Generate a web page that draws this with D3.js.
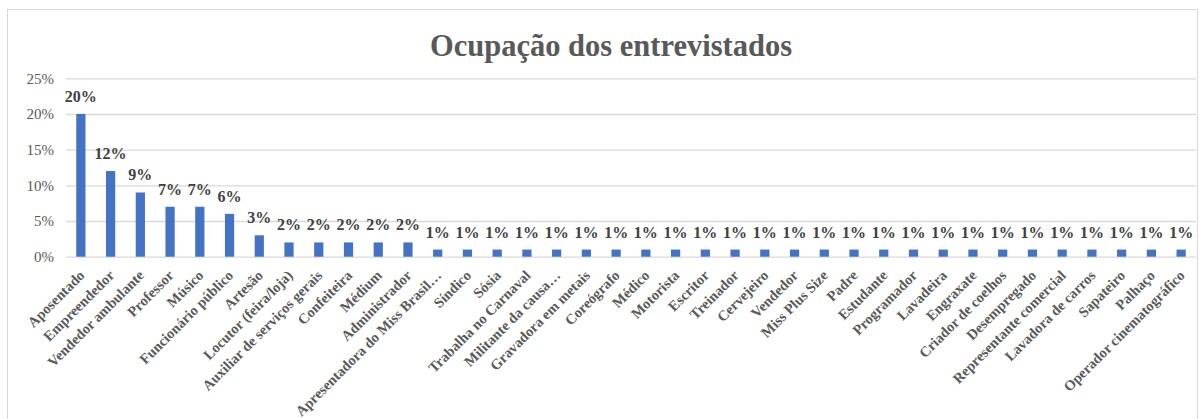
<!DOCTYPE html>
<html><head><meta charset="utf-8">
<script src="https://cdn.jsdelivr.net/npm/d3@7"></script>
<style>body{margin:0;background:#fff}svg{display:block}</style>
</head><body>
<script>
const categories = ["Aposentado","Empreendedor","Vendedor ambulante","Professor","Músico","Funcionário público","Artesão","Locutor (feira/loja)","Auxiliar de serviços gerais","Confeiteira","Médium","Administrador","Apresentadora do Miss Brasil…","Síndico","Sósia","Trabalha no Carnaval","Militante da causa…","Gravadora em metais","Coreógrafo","Médico","Motorista","Escritor","Treinador","Cervejeiro","Vendedor","Miss Plus Size","Padre","Estudante","Programador","Lavadeira","Engraxate","Criador de coelhos","Desempregado","Representante comercial","Lavadora de carros","Sapateiro","Palhaço","Operador cinematográfico"];
const values = [20,12,9,7,7,6,3,2,2,2,2,2,1,1,1,1,1,1,1,1,1,1,1,1,1,1,1,1,1,1,1,1,1,1,1,1,1,1];
const yTicks = [0,5,10,15,20,25];
const title = "Ocupação dos entrevistados";

const W = 1201, H = 419;
const svg = d3.select("body").append("svg").attr("width", W).attr("height", H);
const serif = "'Liberation Serif','Times New Roman',serif";

svg.append("rect").attr("x",7.5).attr("y",9.5).attr("width",1190).attr("height",430)
  .attr("fill","#fff").attr("stroke","#d9d9d9");

svg.append("text").attr("x",611).attr("y",55.5).attr("text-anchor","middle")
  .attr("font-family",serif).attr("font-weight","bold").attr("font-size",30.5)
  .attr("fill","#595959").text(title);

const x = d3.scaleBand().domain(categories).range([66,1196]).paddingInner(0.69).paddingOuter(0.345);
const y = d3.scaleLinear().domain([0,25]).range([256.7,78.3]);

const yAxis = d3.axisLeft(y).tickValues(yTicks).tickFormat(d=>d+"%").tickSize(-(1196-66)).tickPadding(12);
const gy = svg.append("g").attr("transform","translate(66,0)").call(yAxis);
gy.select(".domain").remove();
gy.selectAll(".tick line").attr("stroke","#d9d9d9").attr("stroke-width",1.3);
gy.selectAll(".tick text").attr("font-family",serif).attr("font-size",15).attr("fill","#595959");

svg.append("g").selectAll("rect").data(values).join("rect")
  .attr("x",(d,i)=>x(categories[i])).attr("width",x.bandwidth())
  .attr("y",d=>y(d)).attr("height",d=>y(0)-y(d)).attr("fill","#4472C4");

svg.append("g").selectAll("text").data(values).join("text")
  .attr("x",(d,i)=>x(categories[i])+x.bandwidth()/2).attr("y",d=>y(d)-12)
  .attr("text-anchor","middle").attr("font-family",serif).attr("font-weight","bold")
  .attr("font-size",16).attr("fill","#404040").text(d=>d+"%");

const xAxis = d3.axisBottom(x).tickSize(0).tickPadding(0);
const gx = svg.append("g").attr("transform",`translate(0,${y(0)})`).call(xAxis);
gx.select(".domain").remove();
gx.selectAll(".tick text").attr("font-family",serif).attr("font-weight","bold").attr("font-size",14.5)
  .attr("fill","#595959").attr("text-anchor","end").attr("dy","0.35em")
  .attr("transform","translate(1,16) rotate(-45)").attr("y",0).attr("x",0);
</script>
</body></html>
